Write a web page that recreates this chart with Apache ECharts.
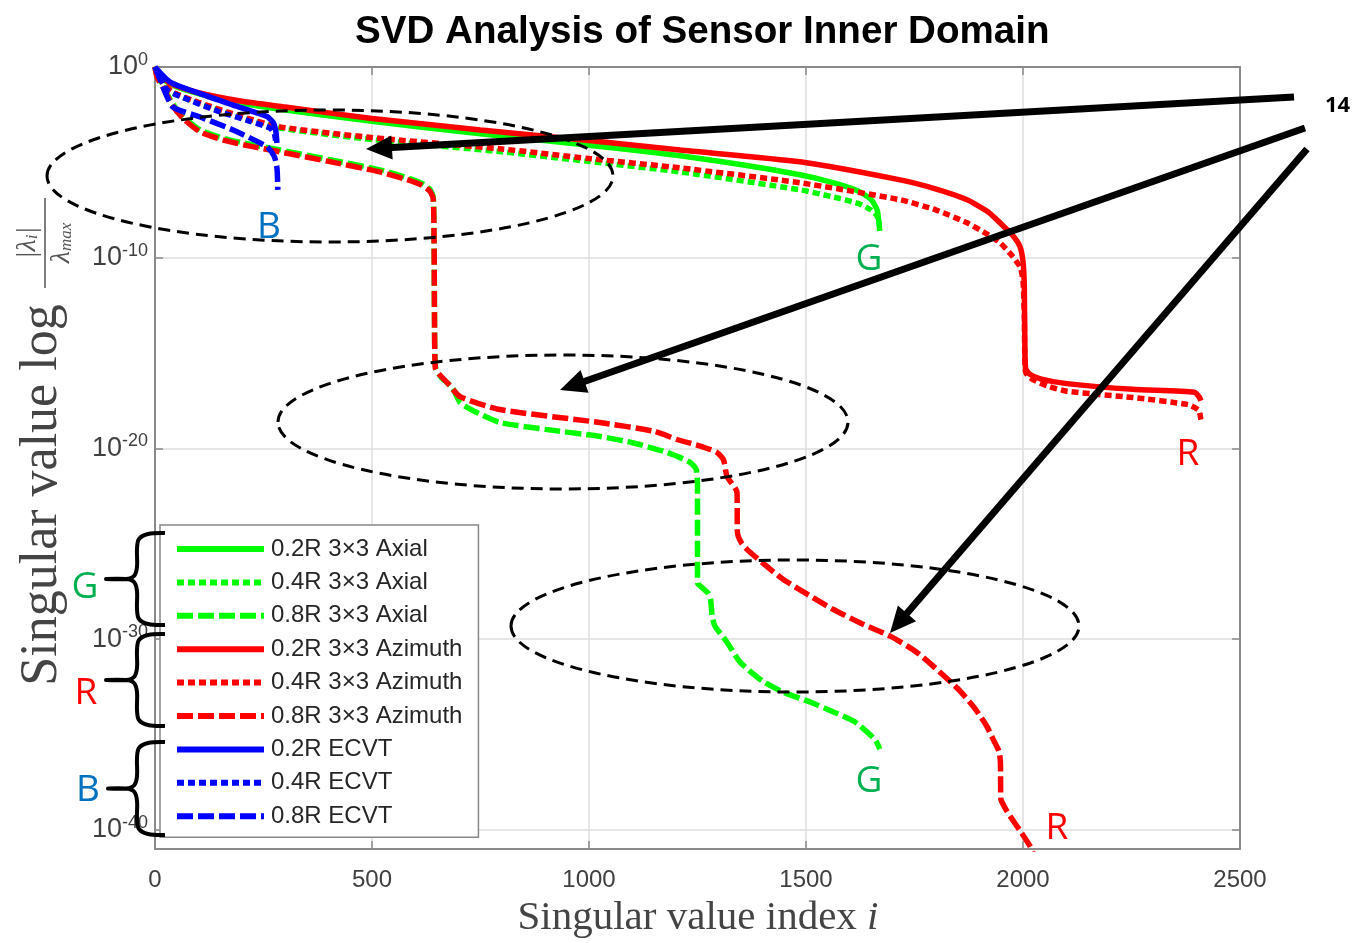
<!DOCTYPE html>
<html>
<head>
<meta charset="utf-8">
<script src="https://cdn.jsdelivr.net/npm/echarts@6/dist/echarts.min.js"></script>
<style>html,body{margin:0;padding:0;background:#fff;}#chart{width:1364px;height:943px;}</style>
</head>
<body>
<div id="chart"></div>
<script>
// ---- Data: x = singular value index, y = log10(lambda_i / lambda_max) ----
const xTicks = [0, 500, 1000, 1500, 2000, 2500];
const yTickExp = [0, -10, -20, -30, -40];

const seriesNames = [
  '0.2R 3\u00d73 Axial', '0.4R 3\u00d73 Axial', '0.8R 3\u00d73 Axial',
  '0.2R 3\u00d73 Azimuth', '0.4R 3\u00d73 Azimuth', '0.8R 3\u00d73 Azimuth',
  '0.2R ECVT', '0.4R ECVT', '0.8R ECVT'
];

const g02x = [0, 10, 40, 100, 200, 300, 500, 750, 1000, 1210, 1330, 1486, 1560, 1620, 1650, 1664, 1670];
const g02y = [0, -0.45, -0.95, -1.4, -1.9, -2.25, -2.85, -3.5, -4.1, -4.65, -5.05, -5.65, -6.05, -6.5, -6.95, -7.5, -8.6];

const g04x = [0, 10, 40, 100, 200, 288, 500, 800, 1000, 1210, 1486, 1560, 1620, 1650, 1665, 1669];
const g04y = [0, -0.65, -1.35, -1.9, -2.65, -3.2, -3.8, -4.45, -4.95, -5.5, -6.44, -6.8, -7.15, -7.5, -7.85, -8.3];

const g08x = [0, 5, 18, 40, 65, 104, 160, 219, 288, 400, 518, 580, 615, 633, 641, 643, 644, 646, 660, 685, 703, 740, 795, 900, 1025, 1100, 1180, 1233, 1247, 1250, 1250, 1251, 1275, 1280, 1284, 1290, 1318, 1348, 1400, 1447, 1510, 1562, 1610, 1641, 1660, 1670];
const g08y = [0, -0.5, -1.0, -1.9, -2.6, -3.3, -3.75, -4.05, -4.35, -4.85, -5.39, -5.8, -6.1, -6.4, -6.8, -9, -13, -15.7, -16.3, -16.8, -17.59, -18.1, -18.64, -19.0, -19.37, -19.7, -20.21, -20.73, -21.1, -22, -27.02, -27.1, -27.6, -27.9, -28.8, -29.3, -30.16, -31.2, -32.2, -32.77, -33.3, -33.8, -34.3, -34.87, -35.3, -35.76];

const r02x = [0, 10, 40, 100, 200, 300, 500, 750, 1000, 1210, 1486, 1717, 1800, 1871, 1920, 1947, 1975, 1993, 2000, 2003, 2004, 2006, 2015, 2040, 2101, 2253, 2395, 2406, 2410];
const r02y = [0, -0.4, -0.9, -1.35, -1.8, -2.1, -2.7, -3.3, -3.85, -4.35, -4.97, -5.92, -6.4, -6.96, -7.6, -8.17, -8.8, -9.42, -10.2, -11.5, -14, -15.8, -16.1, -16.35, -16.6, -16.9, -17.05, -17.3, -17.5];

const r04x = [0, 10, 40, 100, 200, 288, 500, 800, 1000, 1210, 1486, 1717, 1800, 1871, 1920, 1947, 1975, 1993, 2000, 2003, 2006, 2023, 2060, 2101, 2253, 2380, 2405, 2410, 2412];
const r04y = [0, -0.6, -1.3, -1.85, -2.6, -3.14, -3.7, -4.3, -4.8, -5.29, -6.07, -6.96, -7.5, -8.17, -8.8, -9.21, -9.9, -10.47, -11.2, -13, -16, -16.39, -16.75, -17.0, -17.33, -17.7, -18.0, -18.48, -18.64];

const r08x = [0, 5, 18, 40, 65, 104, 160, 219, 288, 400, 518, 580, 615, 633, 641, 643, 644, 646, 673, 703, 795, 1025, 1150, 1203, 1260, 1295, 1310, 1318, 1341, 1342, 1350, 1364, 1400, 1447, 1500, 1562, 1630, 1694, 1750, 1793, 1850, 1885, 1915, 1931, 1945, 1948, 1949, 1960, 1970, 1995, 2016, 2025];
const r08y = [0, -0.55, -1.05, -2.0, -2.7, -3.4, -3.85, -4.15, -4.45, -4.95, -5.5, -5.9, -6.2, -6.5, -6.9, -9, -13, -15.8, -16.54, -17.28, -17.96, -18.64, -19.1, -19.53, -19.9, -20.21, -20.6, -21.47, -22.3, -24.4, -24.9, -25.29, -26.0, -26.86, -27.6, -28.43, -29.2, -29.84, -30.6, -31.41, -32.6, -33.51, -34.5, -35.24, -35.9, -36.5, -38.38, -38.9, -39.27, -40.1, -40.84, -41.3];

const b02x = [0, 35, 104, 180, 258, 272, 278, 281];
const b02y = [0, -0.79, -1.4, -2.0, -2.6, -2.9, -3.3, -3.98];

const b04x = [0, 28, 65, 143, 219, 265, 275, 278];
const b04y = [0, -1.2, -1.6, -2.3, -2.85, -3.2, -3.5, -3.9];

const b08x = [0, 12, 41, 104, 180, 258, 275, 281, 283];
const b08y = [0, -0.68, -2.09, -2.62, -3.3, -4.19, -4.7, -5.3, -6.44];

// ---- Helpers ----
function zip(xs, ys) { return xs.map((x, i) => [x, ys[i]]); }

const GREEN = '#00ff00', RED = '#ff0000', BLUE = '#0000ff';
const DOT = [7, 4], DASH = [16, 5];
const LW = 5.5;

function mkSeries(name, xs, ys, color, dash) {
  return {
    name: name,
    type: 'line',
    data: zip(xs, ys),
    showSymbol: false,
    symbol: 'none',
    smooth: 0.2,
    clip: true,
    animation: false,
    lineStyle: { color: color, width: LW, type: dash || 'solid' },
    itemStyle: { color: color },
    emphasis: { disabled: true }
  };
}

const series = [
  mkSeries(seriesNames[0], g02x, g02y, GREEN, null),
  mkSeries(seriesNames[1], g04x, g04y, GREEN, DOT),
  mkSeries(seriesNames[2], g08x, g08y, GREEN, DASH),
  mkSeries(seriesNames[3], r02x, r02y, RED, null),
  mkSeries(seriesNames[4], r04x, r04y, RED, DOT),
  mkSeries(seriesNames[5], r08x, r08y, RED, DASH),
  mkSeries(seriesNames[6], b02x, b02y, BLUE, null),
  mkSeries(seriesNames[7], b04x, b04y, BLUE, DOT),
  mkSeries(seriesNames[8], b08x, b08y, BLUE, DASH)
];

function arrowHead(tail, tip, len, half) {
  const dx = tip[0] - tail[0], dy = tip[1] - tail[1];
  const L = Math.sqrt(dx * dx + dy * dy);
  const ux = dx / L, uy = dy / L;
  const bx = tip[0] - ux * len, by = tip[1] - uy * len;
  return [[tip[0], tip[1]], [bx - uy * half, by + ux * half], [bx + uy * half, by - ux * half]];
}
function arrow(tail, tip) {
  const len = 26, half = 12;
  const dx = tip[0] - tail[0], dy = tip[1] - tail[1];
  const L = Math.sqrt(dx * dx + dy * dy);
  const end = [tip[0] - dx / L * (len - 4), tip[1] - dy / L * (len - 4)];
  return [
    { type: 'line', z: 100, shape: { x1: tail[0], y1: tail[1], x2: end[0], y2: end[1] }, style: { stroke: '#000', lineWidth: 7 } },
    { type: 'polygon', z: 100, shape: { points: arrowHead(tail, tip, len, half) }, style: { fill: '#000' } }
  ];
}
function ellipse(cx, cy, rx, ry) {
  return { type: 'ellipse', z: 90, shape: { cx: cx, cy: cy, rx: rx, ry: ry },
    style: { fill: null, stroke: '#000', lineWidth: 3, lineDash: [12, 7] } };
}
function brace(top, bot, nubX) {
  const xr = 165, xv = 137, mid = (top + bot) / 2;
  return {
    type: 'polyline', z: 100,
    shape: { points: [[xr, top], [148, top + 1], [139, top + 6], [xv, top + 16], [xv, mid - 12], [134, mid - 3], [126, mid], [nubX, mid], [126, mid], [134, mid + 3], [xv, mid + 12], [xv, bot - 16], [139, bot - 6], [148, bot - 1], [xr, bot]], smooth: 0.35 },
    style: { fill: null, stroke: '#000', lineWidth: 4, lineJoin: 'round' }
  };
}
function letter(txt, x, y, color) {
  return { type: 'text', z: 100, x: x, y: y,
    style: { text: txt, fill: color, font: '37px "Open Sans", "Noto Sans", sans-serif', align: 'center', verticalAlign: 'middle' } };
}

const graphics = [].concat(
  [ellipse(330, 176, 283, 66), ellipse(563, 422, 285, 67), ellipse(795, 626, 284, 66)],
  arrow([1294, 97], [366, 149]),
  arrow([1305, 128], [560, 390]),
  arrow([1307, 149], [890, 633]),
  [
    { type: 'text', z: 100, x: 1325, y: 106, style: { text: '14', fill: '#000', font: 'bold 22px "Open Sans", sans-serif', align: 'left', verticalAlign: 'middle' } },
    letter('B', 269, 227, '#0070c0'),
    letter('G', 869, 259, '#00b050'),
    letter('R', 1188, 454, '#ff0000'),
    letter('G', 869, 781, '#00b050'),
    letter('R', 1057, 828, '#ff0000'),
    letter('G', 85, 587, '#00b050'),
    letter('R', 86, 693, '#ff0000'),
    letter('B', 88, 790, '#0070c0'),
    brace(533, 625, 106),
    brace(634, 726, 106),
    brace(742, 835, 108),
    // axis titles
    { type: 'text', z: 50, x: 698, y: 918,
      style: { text: 'Singular value index {i|i}', fill: '#444', font: '41px "Liberation Serif", "DejaVu Serif", serif', align: 'center', verticalAlign: 'middle',
        rich: { i: { font: 'italic 41px "Liberation Serif", serif', fill: '#444' } } } },
    { type: 'text', z: 50, x: 42, y: 495, rotation: Math.PI / 2,
      style: { text: 'Singular value log', fill: '#444', font: '52px "Liberation Serif", "DejaVu Serif", serif', align: 'center', verticalAlign: 'middle' } },
    { type: 'group', z: 50, x: 45, y: 243, rotation: Math.PI / 2, children: [
      { type: 'text', x: 0, y: -17, style: { text: '|\u03bb{s|i}|', fill: '#555', font: 'italic 28px "Liberation Serif", serif', align: 'center', verticalAlign: 'middle', rich: { s: { font: 'italic 17px "Liberation Serif", serif', fill: '#555', padding: [10, 0, 0, 0] } } } },
      { type: 'line', shape: { x1: -45, y1: 0, x2: 45, y2: 0 }, style: { stroke: '#555', lineWidth: 1.5 } },
      { type: 'text', x: 0, y: 17, style: { text: '\u03bb{s|max}', fill: '#555', font: 'italic 28px "Liberation Serif", serif', align: 'center', verticalAlign: 'middle', rich: { s: { font: 'italic 17px "Liberation Serif", serif', fill: '#555', padding: [10, 0, 0, 0] } } } }
    ] }
  ]
);

const chart = echarts.init(document.getElementById('chart'), null, { renderer: 'canvas' });
const AXC = '#8a8a8a';
const labelColor = '#404040';

chart.setOption({
  animation: false,
  backgroundColor: '#fff',
  title: {
    text: 'SVD Analysis of Sensor Inner Domain',
    left: 350, top: 8,
    textStyle: { fontFamily: '"Liberation Sans", Arial, sans-serif', fontWeight: 'bold', fontSize: 38.6, color: '#000' }
  },
  grid: { left: 155, right: 124, top: 67, bottom: 94, show: false, containLabel: false },
  legend: {
    show: true,
    orient: 'vertical',
    left: 160, top: 525,
    data: seriesNames,
    itemWidth: 87, itemHeight: 20, itemGap: 9.4,
    padding: [12, 16, 9, 14],
    backgroundColor: '#fff',
    borderColor: '#888', borderWidth: 1.5, borderRadius: 0,
    selectedMode: false,
    itemStyle: { color: 'rgba(0,0,0,0)', borderWidth: 0, opacity: 0 },
    lineStyle: { width: 6 },
    textStyle: { fontFamily: '"Liberation Sans", Arial, sans-serif', fontSize: 24, color: '#262626', lineHeight: 20, padding: [0, 0, 0, 2] },
    z: 20
  },
  xAxis: [{
    type: 'value', min: 0, max: 2500, interval: 500, position: 'bottom',
    axisLine: { show: true, onZero: false, lineStyle: { color: AXC, width: 2 } },
    axisTick: { show: true, inside: true, length: 8, lineStyle: { color: AXC, width: 1.5 } },
    axisLabel: { show: true, margin: 19, color: labelColor, fontSize: 24, fontFamily: '"Liberation Sans", Arial, sans-serif', showMinLabel: true, showMaxLabel: true,
      formatter: function (v) { return String(v); } },
    splitLine: { show: true, lineStyle: { color: '#dedede', width: 1.5 } }
  }, {
    type: 'value', min: 0, max: 2500, interval: 500, position: 'top',
    axisLine: { show: true, onZero: false, lineStyle: { color: AXC, width: 2 } },
    axisTick: { show: true, inside: true, length: 8, lineStyle: { color: AXC, width: 1.5 } },
    axisLabel: { show: false }, splitLine: { show: false }
  }],
  yAxis: [{
    type: 'value', min: -41, max: 0, position: 'left',
    axisLine: { show: true, onZero: false, lineStyle: { color: AXC, width: 2 } },
    axisTick: { show: true, inside: true, length: 8, customValues: yTickExp, lineStyle: { color: AXC, width: 1.5 } },
    axisLabel: {
      show: true, margin: 7, customValues: yTickExp,
      formatter: function (v) { return '{a|10}{s|' + String(Math.round(v)) + '}'; },
      rich: {
        a: { fontSize: 27, color: labelColor, fontFamily: '"Liberation Sans", Arial, sans-serif', lineHeight: 32 },
        s: { fontSize: 18, color: labelColor, fontFamily: '"Liberation Sans", Arial, sans-serif', lineHeight: 18, verticalAlign: 'top' }
      }
    },
    splitLine: { show: true, lineStyle: { color: '#dedede', width: 1.5 } }
  }, {
    type: 'value', min: -41, max: 0, position: 'right',
    axisLine: { show: true, onZero: false, lineStyle: { color: AXC, width: 2 } },
    axisTick: { show: true, inside: true, length: 8, customValues: yTickExp, lineStyle: { color: AXC, width: 1.5 } },
    axisLabel: { show: false }, splitLine: { show: false }
  }],
  series: series,
  graphic: { elements: graphics }
});
</script>
</body>
</html>
